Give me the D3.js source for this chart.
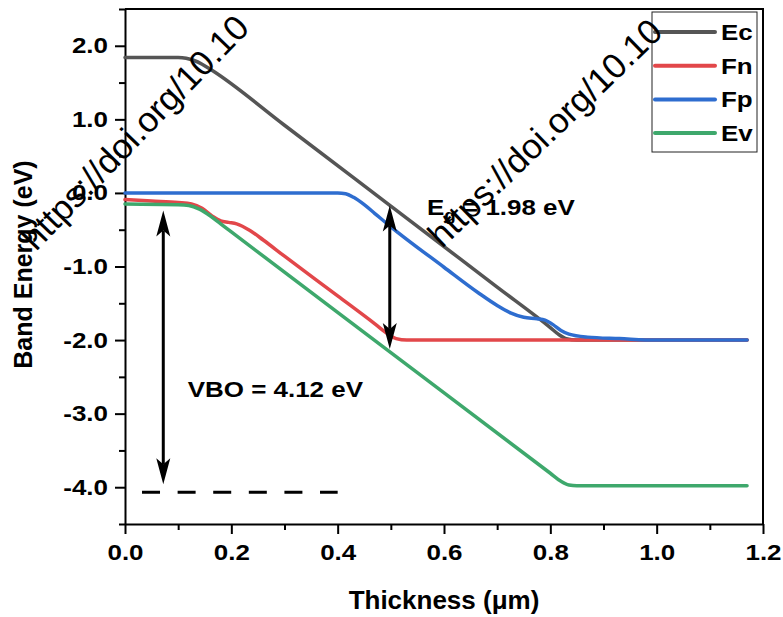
<!DOCTYPE html>
<html>
<head>
<meta charset="utf-8">
<script src="https://cdn.jsdelivr.net/npm/d3@7"></script>
<style>
  body { margin: 0; background: #fff; }
  text { font-family: Arial, "Liberation Sans", sans-serif; }
</style>
</head>
<body>
<div id="chart"></div>
<script>
// band diagram, [thickness (um), energy (eV)]
const ec = [[0, 1.84], [0.10, 1.84], [0.115, 1.83], [0.13, 1.80], [0.145, 1.75], [0.165, 1.66],
  [0.30, 0.92], [0.50, -0.18], [0.70, -1.28], [0.80, -1.83], [0.815, -1.92], [0.83, -1.98],
  [0.85, -2.0], [1.0, -2.0], [1.17, -2.0]];
const fn = [[0, -0.09], [0.05, -0.11], [0.10, -0.13], [0.125, -0.15], [0.145, -0.21], [0.165, -0.32],
  [0.18, -0.38], [0.195, -0.40], [0.21, -0.42], [0.235, -0.51], [0.26, -0.64], [0.30, -0.86],
  [0.40, -1.40], [0.47, -1.78], [0.495, -1.92], [0.51, -1.98], [0.53, -2.0], [1.0, -2.0], [1.17, -2.0]];
const fp = [[0, 0], [0.40, 0], [0.415, -0.01], [0.43, -0.06], [0.45, -0.16], [0.47, -0.28],
  [0.50, -0.46], [0.60, -1.01], [0.665, -1.36], [0.70, -1.53], [0.725, -1.63], [0.75, -1.69],
  [0.775, -1.71], [0.79, -1.73], [0.805, -1.79], [0.82, -1.87], [0.835, -1.92], [0.87, -1.96],
  [0.93, -1.98], [1.0, -2.0], [1.17, -2.0]];
const ev = [[0, -0.15], [0.10, -0.16], [0.12, -0.17], [0.14, -0.22], [0.16, -0.31], [0.18, -0.42],
  [0.20, -0.53], [0.50, -2.17], [0.80, -3.81], [0.82, -3.92], [0.835, -3.97], [0.85, -3.98],
  [1.0, -3.98], [1.17, -3.98]];

const seriesNames = ["Ec", "Fn", "Fp", "Ev"];
const seriesColors = ["#555555", "#e2474a", "#2e6dcf", "#3ea86c"];

const xTicks = [0, 0.2, 0.4, 0.6, 0.8, 1.0, 1.2];
const xMinor = [0.1, 0.3, 0.5, 0.7, 0.9, 1.1];
const yTicks = [-4, -3, -2, -1, 0, 1, 2];
const yMinor = [-4.5, -3.5, -2.5, -1.5, -0.5, 0.5, 1.5, 2.5];

// annotations
const vboArrow = { x: 0.072, y1: -0.24, y2: -3.96 };
const egArrow = { x: 0.498, y1: -0.17, y2: -2.12 };
const vboRef = { x1: 0.032, x2: 0.40, y: -4.07 };
const vboLabel = { x: 0.118, y: -2.78, text: "VBO = 4.12 eV" };
const egLabel = { x: 0.568, y: -0.30 };
const watermark = "https://doi.org/10.10";

const W = 783, H = 617;
const margin = { top: 9, right: 20, bottom: 93, left: 125 };
const sx = 1.18; // text in the figure is a bit wider than plain Arial

const svg = d3.select("#chart").append("svg")
  .attr("width", W).attr("height", H)
  .style("background", "#fff");

const x = d3.scaleLinear().domain([0, 1.2]).range([margin.left, W - margin.right]);
const y = d3.scaleLinear().domain([-4.5, 2.5]).range([H - margin.bottom, margin.top]);

// axes
const xAxis = svg.append("g")
  .attr("transform", `translate(0,${y(-4.5)})`)
  .call(d3.axisBottom(x).tickValues(xTicks).tickSize(10).tickSizeOuter(0).tickPadding(10)
    .tickFormat(d => d.toFixed(1)));
svg.append("g")
  .attr("transform", `translate(0,${y(-4.5)})`)
  .call(d3.axisBottom(x).tickValues(xMinor).tickSize(6).tickSizeOuter(0).tickFormat(""))
  .select(".domain").remove();

const yAxis = svg.append("g")
  .attr("transform", `translate(${x(0)},0)`)
  .call(d3.axisLeft(y).tickValues(yTicks).tickSize(10).tickSizeOuter(0)
    .tickFormat(d => d.toFixed(1)));
svg.append("g")
  .attr("transform", `translate(${x(0)},0)`)
  .call(d3.axisLeft(y).tickValues(yMinor).tickSize(6).tickSizeOuter(0).tickFormat(""))
  .select(".domain").remove();

svg.selectAll(".tick line").attr("stroke", "#000").attr("stroke-width", 2);
svg.selectAll(".domain").attr("stroke", "#000").attr("stroke-width", 2);

xAxis.selectAll("text")
  .attr("transform", `scale(${sx},1)`)
  .style("font-size", "22px").style("font-weight", "bold").attr("fill", "#000");
yAxis.selectAll("text")
  .attr("x", -17 / sx)
  .attr("transform", `scale(${sx},1)`)
  .style("font-size", "22px").style("font-weight", "bold").attr("fill", "#000");

// top / right frame
svg.append("path")
  .attr("d", `M${x(0)},${y(2.5)}H${x(1.2)}V${y(-4.5)}`)
  .attr("fill", "none").attr("stroke", "#000").attr("stroke-width", 2);

// axis titles
svg.append("text")
  .attr("transform", `translate(32,${(y(2.5) + y(-4.5)) / 2 - 2}) rotate(-90)`)
  .attr("text-anchor", "middle")
  .style("font-size", "25px").style("font-weight", "bold")
  .text("Band Energy (eV)");
svg.append("text")
  .attr("x", (x(0) + x(1.2)) / 2)
  .attr("y", 609)
  .attr("text-anchor", "middle")
  .style("font-size", "26px").style("font-weight", "bold")
  .text("Thickness (\u03bcm)");

// curves
const line = d3.line()
  .x(d => x(d[0]))
  .y(d => y(d[1]))
  .curve(d3.curveMonotoneX);

[ec, fn, fp, ev].forEach((s, i) => {
  svg.append("path")
    .datum(s)
    .attr("d", line)
    .attr("fill", "none")
    .attr("stroke", seriesColors[i])
    .attr("stroke-width", 3.5)
    .attr("stroke-linecap", "round")
    .attr("stroke-linejoin", "round");
});

// double arrows
function doubleArrow(a) {
  const px = x(a.x), top = y(a.y1), bot = y(a.y2);
  const len = 26, back = 20, hw = 7;
  svg.append("line")
    .attr("x1", px).attr("x2", px)
    .attr("y1", top + back).attr("y2", bot - back)
    .attr("stroke", "#000").attr("stroke-width", 3);
  svg.append("path")
    .attr("d", `M${px},${top}L${px - hw},${top + len}L${px},${top + back}L${px + hw},${top + len}Z`)
    .attr("fill", "#000");
  svg.append("path")
    .attr("d", `M${px},${bot}L${px - hw},${bot - len}L${px},${bot - back}L${px + hw},${bot - len}Z`)
    .attr("fill", "#000");
}
doubleArrow(vboArrow);
doubleArrow(egArrow);

svg.append("line")
  .attr("x1", x(vboRef.x1)).attr("x2", x(vboRef.x2))
  .attr("y1", y(vboRef.y)).attr("y2", y(vboRef.y))
  .attr("stroke", "#000").attr("stroke-width", 3)
  .attr("stroke-dasharray", "18,17.6");

svg.append("text")
  .attr("transform", `translate(${x(vboLabel.x)},${y(vboLabel.y)}) scale(${sx},1)`)
  .style("font-size", "22px").style("font-weight", "bold")
  .text(vboLabel.text);

const eg = svg.append("text")
  .attr("transform", `translate(${x(egLabel.x)},${y(egLabel.y)}) scale(${sx},1)`)
  .style("font-size", "22px").style("font-weight", "bold");
eg.append("tspan").text("E");
eg.append("tspan").attr("dy", 6).style("font-size", "16px").text("g");
eg.append("tspan").attr("dy", -6).text(" = 1.98 eV");

// legend
const legend = svg.append("g");
legend.append("rect")
  .attr("x", 652).attr("y", 12).attr("width", 105).attr("height", 140)
  .attr("fill", "#fff").attr("stroke", "#222").attr("stroke-width", 1);
seriesNames.forEach((name, i) => {
  const ly = 32 + i * 33.7;
  legend.append("line")
    .attr("x1", 655).attr("x2", 715).attr("y1", ly).attr("y2", ly)
    .attr("stroke", seriesColors[i]).attr("stroke-width", 4)
    .attr("stroke-linecap", "round");
  legend.append("text")
    .attr("transform", `translate(721,${ly + 8}) scale(${sx},1)`)
    .style("font-size", "22px").style("font-weight", "bold")
    .text(name);
});

// watermark stamped over the figure
[[36, 252, -46], [442, 249, -44]].forEach(([wx, wy, a]) => {
  svg.append("text")
    .attr("transform", `translate(${wx},${wy}) rotate(${a})`)
    .style("font-size", "35px")
    .attr("fill", "#000")
    .text(watermark);
});
</script>
</body>
</html>
